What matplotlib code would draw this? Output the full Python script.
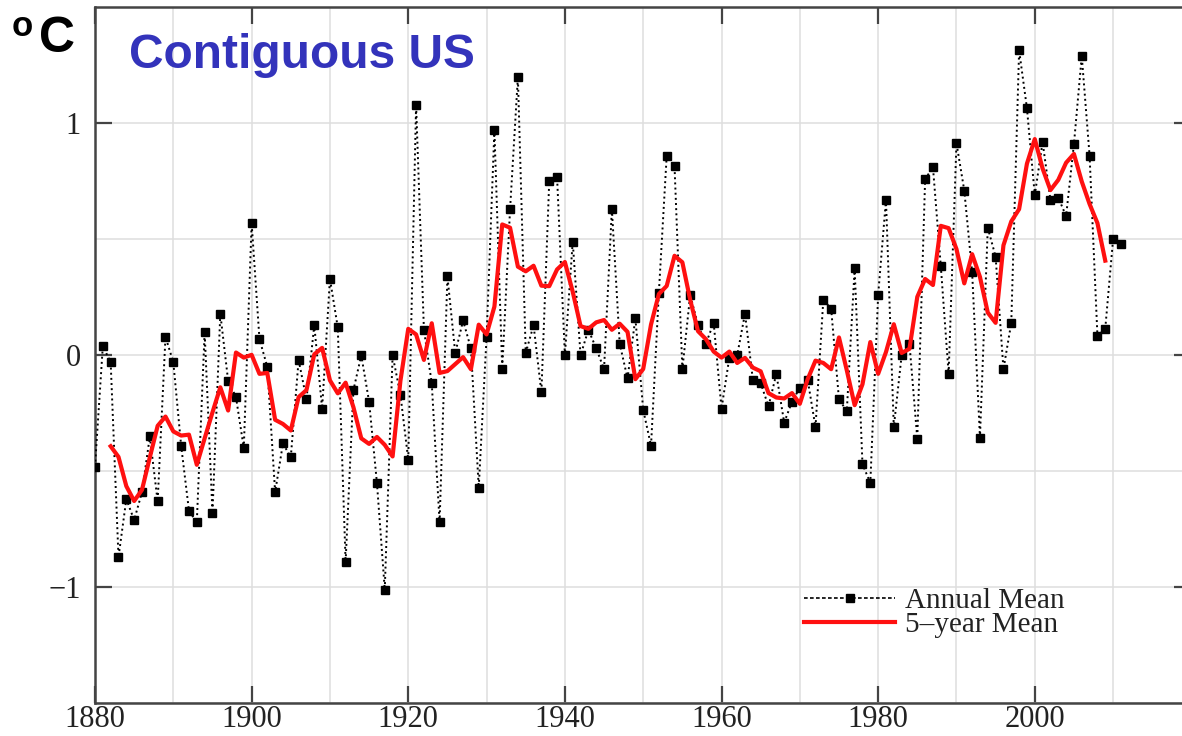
import matplotlib
matplotlib.use("Agg")
import matplotlib.pyplot as plt
from matplotlib.lines import Line2D
from matplotlib.ticker import MultipleLocator

# Annual mean temperature anomaly, contiguous US (deg C)
years = list(range(1880, 2012))
annual_mean = [
    -0.48, 0.04, -0.03, -0.87, -0.62, -0.71, -0.59, -0.35, -0.63, 0.08,   # 1880s
    -0.03, -0.39, -0.67, -0.72, 0.10, -0.68, 0.18, -0.11, -0.18, -0.40,   # 1890s
    0.57, 0.07, -0.05, -0.59, -0.38, -0.44, -0.02, -0.19, 0.13, -0.23,    # 1900s
    0.33, 0.12, -0.89, -0.15, 0.00, -0.20, -0.55, -1.01, 0.00, -0.17,     # 1910s
    -0.45, 1.08, 0.11, -0.12, -0.72, 0.34, 0.01, 0.15, 0.03, -0.57,       # 1920s
    0.08, 0.97, -0.06, 0.63, 1.20, 0.01, 0.13, -0.16, 0.75, 0.77,         # 1930s
    0.00, 0.49, 0.00, 0.11, 0.03, -0.06, 0.63, 0.05, -0.10, 0.16,         # 1940s
    -0.235, -0.39, 0.27, 0.86, 0.815, -0.06, 0.26, 0.13, 0.05, 0.14,      # 1950s
    -0.23, -0.01, 0.00, 0.18, -0.105, -0.12, -0.22, -0.08, -0.29, -0.20,  # 1960s
    -0.14, -0.105, -0.31, 0.24, 0.20, -0.19, -0.24, 0.375, -0.47, -0.55,  # 1970s
    0.26, 0.67, -0.31, 0.00, 0.05, -0.36, 0.76, 0.81, 0.385, -0.08,       # 1980s
    0.915, 0.71, 0.36, -0.355, 0.55, 0.425, -0.06, 0.14, 1.315, 1.065,    # 1990s
    0.69, 0.92, 0.67, 0.68, 0.60, 0.91, 1.29, 0.86, 0.085, 0.115,         # 2000s
    0.50, 0.48,                                                           # 2010-2011
]

# Centred 5-year running mean (deg C)
smooth_years = list(range(1882, 2010))
five_year_mean = [
    -0.392, -0.438, -0.564, -0.628, -0.580, -0.440, -0.304, -0.264,       # 1882-1889
    -0.328, -0.346, -0.342, -0.472, -0.358, -0.246, -0.138, -0.238, 0.012, -0.010,  # 1890s
    0.002, -0.080, -0.076, -0.278, -0.296, -0.324, -0.180, -0.150, 0.004, 0.032,    # 1900s
    -0.108, -0.164, -0.118, -0.224, -0.358, -0.382, -0.352, -0.386, -0.436, -0.110, # 1910s
    0.114, 0.090, -0.020, 0.138, -0.076, -0.068, -0.038, -0.008, -0.060, 0.132,     # 1920s
    0.090, 0.210, 0.564, 0.550, 0.382, 0.362, 0.386, 0.300, 0.298, 0.370,           # 1930s
    0.402, 0.274, 0.126, 0.114, 0.142, 0.152, 0.110, 0.136, 0.101, -0.103,          # 1940s
    -0.059, 0.133, 0.264, 0.299, 0.429, 0.401, 0.239, 0.104, 0.070, 0.016,          # 1950s
    -0.010, 0.016, -0.033, -0.011, -0.053, -0.069, -0.163, -0.182, -0.186, -0.163,  # 1960s
    -0.209, -0.103, -0.023, -0.033, -0.060, 0.077, -0.065, -0.215, -0.125, 0.057,   # 1970s
    -0.080, 0.014, 0.134, 0.010, 0.028, 0.252, 0.329, 0.303, 0.558, 0.548,          # 1980s
    0.458, 0.310, 0.436, 0.338, 0.184, 0.140, 0.474, 0.577, 0.630, 0.826,           # 1990s
    0.932, 0.805, 0.712, 0.756, 0.830, 0.868, 0.749, 0.652, 0.570, 0.408,           # 2000s
]

x_ticks = [1880, 1900, 1920, 1940, 1960, 1980, 2000, 2020]
x_tick_labels = ["1880", "1900", "1920", "1940", "1960", "1980", "2000", ""]
y_ticks = [-1, 0, 1]
y_tick_labels = ["\u22121", "0", "1"]

W, H = 1182, 736
fig = plt.figure(figsize=(W / 100, H / 100), dpi=100)
fig.patch.set_facecolor("white")

left_px, right_px = 95.0, 1191.4
top_px, bottom_px = 7.3, 703.3
ax = fig.add_axes([left_px / W, 1 - bottom_px / H,
                   (right_px - left_px) / W, (bottom_px - top_px) / H])

ax.set_xlim(1880, 2020)
ax.set_ylim(-1.5, 1.5)

# grid every decade / every half degree
ax.xaxis.set_minor_locator(MultipleLocator(10))
ax.yaxis.set_minor_locator(MultipleLocator(0.5))
ax.grid(True, which="both", color="#dedede", linewidth=1.1, zorder=0)
ax.set_axisbelow(True)

ax.plot(years, annual_mean, linestyle=":", color="black", linewidth=1.4,
        marker="s", markersize=6.2, markerfacecolor="black",
        markeredgecolor="black", zorder=3)
ax.plot(smooth_years, five_year_mean, color="#ff1010", linewidth=3.0,
        solid_joinstyle="round", zorder=4)

serif = ["Liberation Serif", "DejaVu Serif"]
ax.set_xticks(x_ticks)
ax.set_xticklabels(x_tick_labels, fontfamily=serif, fontsize=22, color="#222222")
ax.set_yticks(y_ticks)
ax.set_yticklabels(y_tick_labels, fontfamily=serif, fontsize=22, color="#222222")
ax.tick_params(which="major", direction="in", length=12, width=1.6,
               color="#444444", top=True, right=True)
ax.tick_params(axis="x", which="major", pad=1.5)
ax.tick_params(axis="y", which="major", pad=10)
ax.tick_params(which="minor", length=0)

for sp in ax.spines.values():
    sp.set_color("#444444")
    sp.set_linewidth(1.8)

handles = [
    Line2D([], [], color="black", linestyle=(0, (2.2, 1.4)), linewidth=1.2,
           marker="s", markersize=6, markerfacecolor="black"),
    Line2D([], [], color="#ff1010", linewidth=3.0),
]
leg = ax.legend(handles, ["Annual Mean", "5\u2013year Mean"],
                loc="upper left", bbox_to_anchor=(0.647, 0.166),
                frameon=False, prop={"family": serif, "size": 21},
                handlelength=3.1, handletextpad=0.35, labelspacing=-0.08,
                borderpad=0, borderaxespad=0, numpoints=1)
for t in leg.get_texts():
    t.set_color("#222222")

sans_bold = {"family": ["Liberation Sans", "DejaVu Sans"], "weight": "bold"}
fig.text(12 / W, 1 - 36.5 / H, "o", fontdict=sans_bold, fontsize=25,
         color="black", va="baseline", ha="left")
fig.text(39 / W, 1 - 52 / H, "C", fontdict=sans_bold, fontsize=36,
         color="black", va="baseline", ha="left")
fig.text(129 / W, 1 - 68 / H, "Contiguous US", fontdict=sans_bold,
         fontsize=34.5, color="#3333bb", va="baseline", ha="left")

fig.savefig("out.png", dpi=100, facecolor="white")
